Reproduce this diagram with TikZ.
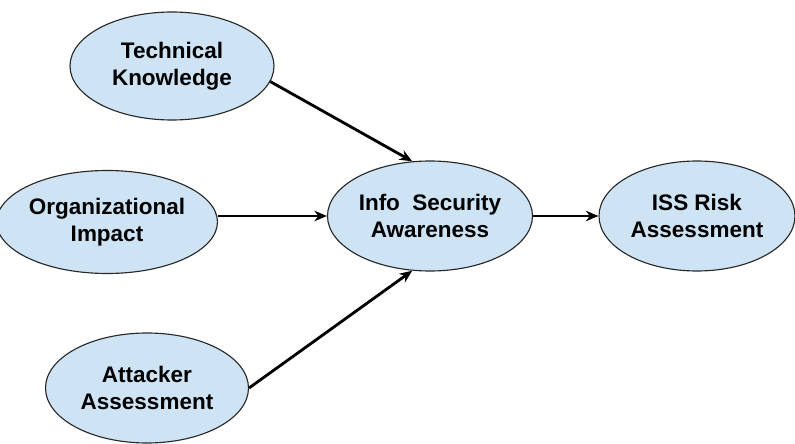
\documentclass[tikz,border=0pt]{standalone}
\usepackage{fontspec}
\usepackage{tikz}
\usetikzlibrary{shapes.geometric,arrows.meta}
\setmainfont{Liberation Sans}
\definecolor{nodeblue}{RGB}{206,228,244}
\definecolor{edgegray}{RGB}{40,40,40}

\begin{document}
\begin{tikzpicture}[->,>={Stealth[length=9pt,width=7.5pt]},auto,
              main node/.style={ellipse,draw=edgegray,line width=0.8pt,fill=nodeblue,
                align=center,inner sep=0pt,
                font=\fontsize{16}{19}\selectfont\bfseries}]

            \useasboundingbox (0,0) rectangle (19.875,11.075);

            \node[main node,minimum width=5.1cm,minimum height=2.7cm] (TK) at (4.3,9.425) {Technical\\Knowledge};
            \node[main node,minimum width=5.125cm,minimum height=2.575cm] (OI) at (2.675,5.525) {Organizational\\Impact};
            \node[main node,minimum width=5.125cm,minimum height=2.75cm] (ISA) at (10.75,5.675) {Info\ \ Security\\Awareness};
            \node[main node,minimum width=4.9cm,minimum height=2.75cm] (ISS) at (17.425,5.675) {ISS Risk\\Assessment};
            \node[main node,minimum width=5.075cm,minimum height=2.75cm] (AA) at (3.675,1.375) {Attacker\\Assessment};

            \path[every node/.style={},line width=2pt]
            (TK.-9) edge (ISA.108)
            (OI.east |- ISA.west) edge (ISA.west)
            (AA.east) edge (ISA.-108)
            (ISA.east) edge (ISS.west);

          \end{tikzpicture}
\end{document}
